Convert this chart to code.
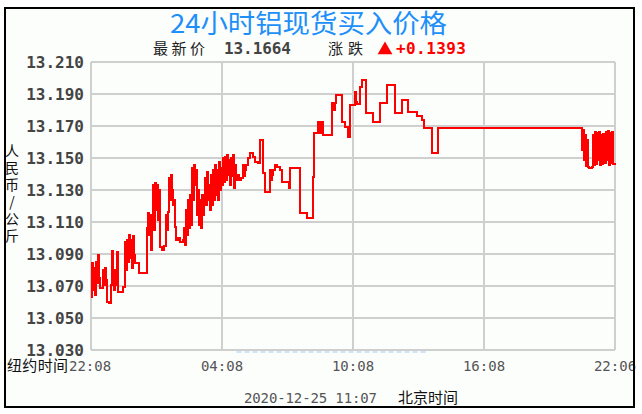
<!DOCTYPE html>
<html>
<head>
<meta charset="utf-8">
<script src="https://cdn.jsdelivr.net/npm/d3@7"></script>
<style>
  html, body { margin: 0; padding: 0; background: #fff; }
  svg { display: block; }
</style>
</head>
<body>
<div id="chart"></div>
<script>
const TITLE = "24小时铝现货买入价格";
const LATEST_LABEL = "最新价";
const LATEST_PRICE = "13.1664";
const CHANGE_LABEL = "涨跌";
const CHANGE_VALUE = "+0.1393";
const UNIT_CHARS = ["人", "民", "币", "/", "公", "斤"];
const NY_LABEL = "纽约时间";
const STAMP = "2020-12-25 11:07";
const BJ_LABEL = "北京时间";

const yTicks = [13.21, 13.19, 13.17, 13.15, 13.13, 13.11, 13.09, 13.07, 13.05, 13.03];
const xTickMinutes = [0, 360, 720, 1080, 1440];
const xTickLabels = ["22:08", "04:08", "10:08", "16:08", "22:06"];

// minutes after 22:08 (New York time) and the price from that minute on
const minutes = [
  0, 3, 5, 8, 11, 14, 16, 19, 22, 25,
  33, 36, 38, 41, 44, 49, 55, 58, 60, 63,
  66, 69, 71, 74, 88, 93, 96, 99, 102, 104,
  107, 110, 113, 115, 118, 121, 132, 154, 157, 159,
  162, 165, 168, 170, 173, 176, 179, 181, 184, 187,
  190, 195, 201, 206, 209, 212, 214, 217, 220, 223,
  225, 228, 231, 234, 239, 245, 253, 256, 258, 261,
  264, 267, 269, 272, 275, 278, 280, 283, 286, 289,
  291, 294, 297, 300, 302, 305, 308, 311, 313, 316,
  319, 322, 324, 327, 330, 333, 335, 338, 341, 344,
  346, 349, 352, 354, 357, 360, 363, 365, 368, 371,
  374, 376, 379, 382, 385, 387, 390, 393, 396, 398,
  401, 407, 412, 418, 420, 423, 426, 431, 437, 445,
  451, 459, 464, 473, 478, 492, 495, 497, 500, 506,
  511, 519, 525, 544, 547, 574, 594, 610, 613, 624,
  629, 635, 638, 662, 665, 671, 673, 690, 698, 706,
  712, 725, 728, 731, 739, 745, 756, 775, 794, 813,
  835, 855, 871, 896, 910, 915, 937, 954, 1349, 1352,
  1355, 1358, 1360, 1363, 1366, 1369, 1377, 1380, 1382, 1385,
  1388, 1390, 1393, 1396, 1399, 1401, 1404, 1407, 1413, 1415,
  1418, 1421, 1423, 1426, 1429, 1432, 1434, 1440
];
const prices = [
  13.0631, 13.0844, 13.0675, 13.0813, 13.0644, 13.085, 13.0719, 13.0894, 13.075, 13.0688,
  13.08, 13.0706, 13.0813, 13.0738, 13.06, 13.0594, 13.0706, 13.0919, 13.0769, 13.0675,
  13.08, 13.0706, 13.0913, 13.0663, 13.0694, 13.0975, 13.08, 13.0988, 13.085, 13.1019,
  13.0875, 13.0988, 13.0813, 13.1013, 13.0894, 13.0844, 13.0781, 13.1063, 13.1156, 13.1019,
  13.1144, 13.0925, 13.1081, 13.1331, 13.105, 13.1344, 13.1175, 13.1331, 13.1113, 13.13,
  13.0944, 13.0925, 13.095, 13.1144, 13.105, 13.1163, 13.1375, 13.1238, 13.1394, 13.13,
  13.1206, 13.1238, 13.1069, 13.0988, 13.1, 13.0975, 13.0988, 13.1063, 13.0956, 13.1175,
  13.1019, 13.1238, 13.1063, 13.1269, 13.1081, 13.1438, 13.1238, 13.1456, 13.1331, 13.1425,
  13.1144, 13.13, 13.1081, 13.1238, 13.1063, 13.1269, 13.1144, 13.1238, 13.1375, 13.1206,
  13.1413, 13.1238, 13.1331, 13.1175, 13.1394, 13.1206, 13.1425, 13.1238, 13.1456, 13.1269,
  13.1425, 13.1238, 13.1475, 13.13, 13.1438, 13.1331, 13.15, 13.135, 13.1506, 13.1363,
  13.1519, 13.1394, 13.1488, 13.1331, 13.15, 13.1388, 13.1519, 13.1313, 13.1456, 13.1363,
  13.1394, 13.1363, 13.1375, 13.1456, 13.1388, 13.1425, 13.1456, 13.15, 13.1531, 13.1506,
  13.1475, 13.1469, 13.1613, 13.1406, 13.1288, 13.1425, 13.1363, 13.1394, 13.1425, 13.1456,
  13.1444, 13.1425, 13.135, 13.1313, 13.1438, 13.1156, 13.1125, 13.1381, 13.1656, 13.1725,
  13.1656, 13.1725, 13.1644, 13.1844, 13.18, 13.1844, 13.1894, 13.1725, 13.1694, 13.1631,
  13.1831, 13.1913, 13.185, 13.1838, 13.1944, 13.1988, 13.1781, 13.1725, 13.1844, 13.1956,
  13.1781, 13.1863, 13.1788, 13.1763, 13.1738, 13.1688, 13.1531, 13.1688, 13.155, 13.1675,
  13.1488, 13.1644, 13.145, 13.1613, 13.1444, 13.1438, 13.1444, 13.1644, 13.1456, 13.1663,
  13.1463, 13.1656, 13.1488, 13.1663, 13.1456, 13.1644, 13.1463, 13.165, 13.1469, 13.1663,
  13.1488, 13.1669, 13.1456, 13.1656, 13.1469, 13.1663, 13.1463, 13.1456
];

(function() {
  const WIDTH = 642;
  const HEIGHT = 414;
  const plot = { left: 91, right: 615, top: 62, bottom: 350 };
  const MONO = "'DejaVu Sans Mono', monospace";
  const CJK = "'Noto Sans CJK SC', sans-serif";
  const gridColor = "#cfcfcf";
  const lineColor = "#ff0000";

  const svg = d3
    .select("#chart")
    .append("svg")
    .attr("width", WIDTH)
    .attr("height", HEIGHT);

  svg
    .append("rect")
    .attr("x", 5)
    .attr("y", 8)
    .attr("width", 629)
    .attr("height", 399)
    .attr("fill", "#fcfefc");

  const x = d3
    .scaleLinear()
    .domain([0, 1440])
    .range([plot.left, plot.right]);
  const y = d3
    .scaleLinear()
    .domain([13.03, 13.21])
    .range([plot.bottom, plot.top]);

  // grid
  const grid = svg.append("g").attr("shape-rendering", "crispEdges");
  grid
    .selectAll("line.h")
    .data(yTicks)
    .enter()
    .append("line")
    .attr("class", "h")
    .attr("x1", plot.left)
    .attr("x2", plot.right)
    .attr("y1", d => y(d))
    .attr("y2", d => y(d))
    .attr("stroke", gridColor)
    .attr("stroke-width", 2);
  grid
    .selectAll("line.v")
    .data(xTickMinutes)
    .enter()
    .append("line")
    .attr("class", "v")
    .attr("x1", d => x(d))
    .attr("x2", d => x(d))
    .attr("y1", plot.top)
    .attr("y2", plot.bottom)
    .attr("stroke", gridColor)
    .attr("stroke-width", 2);

  // faint watermark remnant under the plot
  svg
    .append("line")
    .attr("x1", x(400))
    .attr("x2", x(920))
    .attr("y1", plot.bottom + 2)
    .attr("y2", plot.bottom + 2)
    .attr("stroke", "#cfe4f7")
    .attr("stroke-width", 2)
    .attr("stroke-dasharray", "5,3");

  // price line
  const series = minutes.map((m, i) => ({ m, p: prices[i] }));
  const line = d3
    .line()
    .x(d => x(d.m))
    .y(d => y(d.p))
    .curve(d3.curveStepAfter);
  svg
    .append("path")
    .attr("d", line(series))
    .attr("fill", "none")
    .attr("stroke", lineColor)
    .attr("stroke-width", 2)
    .attr("stroke-linejoin", "miter")
    .attr("shape-rendering", "crispEdges");

  // y labels
  svg
    .append("g")
    .selectAll("text")
    .data(yTicks)
    .enter()
    .append("text")
    .attr("x", 84)
    .attr("y", d => y(d) + 6)
    .attr("text-anchor", "end")
    .style("font-family", MONO)
    .style("font-weight", "bold")
    .style("font-size", "16px")
    .style("fill", "#444")
    .text(d => d3.format(".3f")(d));

  // x labels
  svg
    .append("g")
    .selectAll("text")
    .data(xTickMinutes)
    .enter()
    .append("text")
    .attr("x", d => (d === 0 ? 69 : x(d)))
    .attr("y", 371)
    .attr("text-anchor", d => (d === 0 ? "start" : "middle"))
    .style("font-family", MONO)
    .style("font-size", "14px")
    .style("fill", "#555")
    .text((d, i) => xTickLabels[i]);

  svg
    .append("text")
    .attr("x", 7)
    .attr("y", 371)
    .attr("textLength", 61)
    .style("font-family", CJK)
    .style("font-size", "15px")
    .style("fill", "#111")
    .text(NY_LABEL);

  // unit, stacked vertically
  svg
    .append("g")
    .selectAll("text")
    .data(UNIT_CHARS)
    .enter()
    .append("text")
    .attr("x", 12)
    .attr("y", (d, i) => 156 + i * 17)
    .attr("text-anchor", "middle")
    .style("font-family", CJK)
    .style("font-size", "14px")
    .style("fill", "#111")
    .text(d => d);

  // title
  svg
    .append("text")
    .attr("x", 170)
    .attr("y", 33)
    .attr("textLength", 277)
    .attr("lengthAdjust", "spacingAndGlyphs")
    .style("font-family", CJK)
    .style("font-size", "26px")
    .style("fill", "#1e8ff8")
    .text(TITLE);

  // header line
  const header = svg.append("g");
  header
    .append("text")
    .attr("x", 153)
    .attr("y", 54)
    .attr("textLength", 52)
    .style("font-family", CJK)
    .style("font-size", "15px")
    .style("fill", "#222")
    .text(LATEST_LABEL);
  header
    .append("text")
    .attr("x", 224)
    .attr("y", 54)
    .attr("textLength", 67)
    .style("font-family", MONO)
    .style("font-weight", "bold")
    .style("font-size", "16px")
    .style("fill", "#444")
    .text(LATEST_PRICE);
  header
    .append("text")
    .attr("x", 328)
    .attr("y", 54)
    .attr("textLength", 35)
    .style("font-family", CJK)
    .style("font-size", "15px")
    .style("fill", "#222")
    .text(CHANGE_LABEL);
  header
    .append("path")
    .attr("d", d3.symbol(d3.symbolTriangle, 95)())
    .attr("transform", "translate(385,50)")
    .attr("fill", lineColor);
  header
    .append("text")
    .attr("x", 396)
    .attr("y", 54)
    .attr("textLength", 70)
    .style("font-family", MONO)
    .style("font-weight", "bold")
    .style("font-size", "16px")
    .style("fill", lineColor)
    .text(CHANGE_VALUE);

  // footer
  svg
    .append("text")
    .attr("x", 244)
    .attr("y", 403)
    .attr("textLength", 133)
    .style("font-family", MONO)
    .style("font-size", "14px")
    .style("fill", "#555")
    .text(STAMP);
  svg
    .append("text")
    .attr("x", 398)
    .attr("y", 403)
    .attr("textLength", 60)
    .style("font-family", CJK)
    .style("font-size", "15px")
    .style("fill", "#111")
    .text(BJ_LABEL);

  // outer frame
  svg
    .append("rect")
    .attr("x", 5)
    .attr("y", 8)
    .attr("width", 629)
    .attr("height", 399)
    .attr("fill", "none")
    .attr("stroke", "#000")
    .attr("stroke-width", 2)
    .attr("shape-rendering", "crispEdges");
})();
</script>
</body>
</html>
